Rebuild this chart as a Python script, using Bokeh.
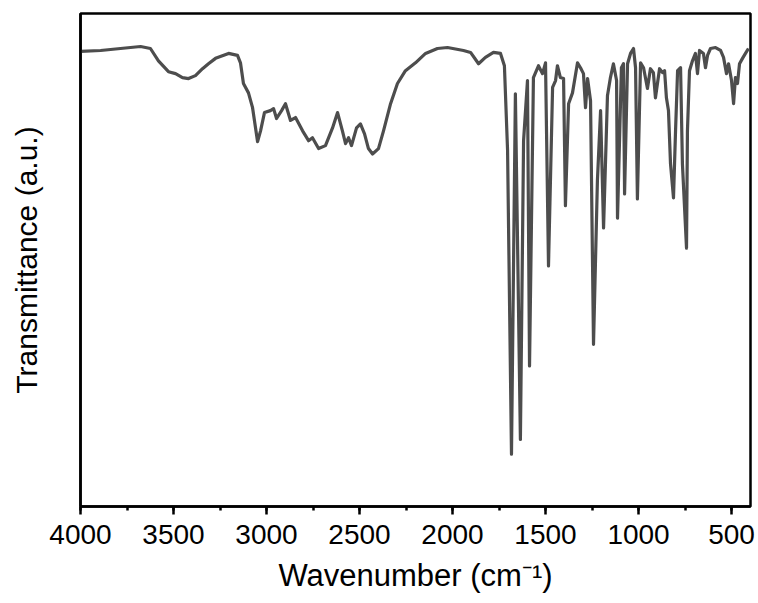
from bokeh.plotting import figure
from bokeh.models import Range1d, SingleIntervalTicker, FixedTicker
from bokeh.embed import file_html
from bokeh.resources import INLINE

# FTIR spectrum: wavenumber (cm^-1) and transmittance (a.u., 0-100)
wavenumber = [
    4000, 3892, 3785, 3677, 3624, 3581, 3527, 3489, 3452, 3419, 3382, 3344, 3312,
    3274, 3204, 3156, 3140,
    3124, 3097, 3075, 3048, 3032, 3011, 2979, 2962, 2946, 2919, 2898, 2871, 2844,
    2806, 2774, 2753, 2720, 2683, 2645, 2618, 2592, 2575, 2559, 2543, 2516, 2495,
    2473, 2452, 2430, 2398, 2371, 2333, 2296, 2253, 2199, 2145, 2081, 2027, 1941,
    1903, 1860, 1823, 1780, 1742, 1721, 1704, 1683, 1662, 1635, 1618, 1597, 1586,
    1565, 1538, 1516, 1500, 1484, 1462, 1446, 1436, 1420, 1403, 1393, 1376, 1355,
    1328, 1312, 1296, 1285, 1274, 1258, 1242, 1221, 1204, 1188, 1167, 1151, 1135,
    1118, 1113, 1092, 1081, 1075, 1059, 1043, 1027, 1016, 1006, 989, 973, 952,
    936, 920, 909, 887, 871, 860, 850, 839, 828, 812, 801, 790, 774, 764, 742,
    737, 726, 710, 694, 683, 672, 651, 640, 629, 613, 586, 559, 543, 527, 516,
    500, 489, 479, 468, 457, 441, 425, 409,
]
transmittance = [
    92.3, 92.5, 92.9, 93.3, 92.9, 90.4, 88.2, 87.8, 87.0, 86.8, 87.4, 88.8, 89.8,
    90.9, 91.9, 91.5, 90.0,
    85.8, 83.9, 80.9, 74.0, 76.2, 79.9, 80.3, 80.7, 78.7, 80.3, 81.7, 78.3, 78.9,
    76.2, 74.2, 74.8, 72.6, 73.2, 76.8, 79.9, 76.2, 73.6, 74.8, 73.2, 76.8, 77.6,
    75.6, 72.6, 71.5, 72.6, 76.2, 81.7, 85.8, 88.4, 90.0, 91.9, 92.9, 93.1, 92.5,
    92.1, 89.8, 91.1, 92.1, 91.9, 89.4, 72.2, 10.6, 83.7, 13.6, 74.2, 86.4, 28.5,
    87.0, 89.4, 87.8, 90.0, 48.8, 85.0, 86.4, 89.4, 87.0, 86.8, 61.0, 81.7, 83.9,
    90.0, 89.0, 87.8, 80.9, 86.8, 82.3, 32.9, 66.1, 80.3, 56.5, 83.3, 87.0, 89.8,
    86.4, 58.5, 89.0, 89.8, 63.4, 89.8, 91.9, 92.9, 89.0, 62.4, 90.0, 89.0, 84.8,
    88.8, 88.0, 82.9, 88.8, 88.0, 88.4, 82.9, 80.3, 69.5, 62.6, 76.2, 88.4, 89.0, 69.5, 52.4,
    76.2, 88.4, 90.4, 91.9, 87.8, 92.5, 91.9, 89.0, 91.5, 92.9, 93.1, 92.5, 91.1, 87.8, 89.8,
    86.4, 81.7, 87.0, 85.8, 89.8, 90.9, 91.9, 92.9,
]

x_title = "Wavenumber (cm\u207b\u00b9)"
y_title = "Transmittance (a.u.)"

FONT = "Liberation Sans"

p = figure(
    width=758, height=603,
    x_range=Range1d(4000, 398), y_range=Range1d(0, 100),
    output_backend="svg", toolbar_location=None,
    min_border_left=80, min_border_right=8, min_border_top=13, min_border_bottom=97,
)
p.background_fill_color = "white"
p.border_fill_color = "white"
p.xgrid.visible = False
p.ygrid.visible = False
p.outline_line_color = "black"
p.outline_line_width = 2.5
p.outline_line_alpha = 1.0

p.line(wavenumber, transmittance, line_color="#4d4d4d", line_width=3.2, line_join="round")

xa = p.xaxis[0]
xa.ticker = SingleIntervalTicker(interval=500, num_minor_ticks=2)
xa.axis_label = x_title
xa.axis_label_text_font = FONT
xa.axis_label_text_font_size = "31px"
xa.axis_label_text_font_style = "normal"
xa.axis_label_text_color = "black"
xa.axis_label_standoff = 11
xa.major_label_text_font = FONT
xa.major_label_text_font_size = "28px"
xa.major_label_text_color = "black"
xa.major_label_standoff = 10
xa.axis_line_color = "black"
xa.axis_line_width = 2.5
xa.major_tick_line_color = "black"
xa.major_tick_line_width = 2.5
xa.major_tick_out = 8
xa.major_tick_in = 0
xa.minor_tick_line_color = "black"
xa.minor_tick_line_width = 2.5
xa.minor_tick_out = 4
xa.minor_tick_in = 0

ya = p.yaxis[0]
ya.ticker = FixedTicker(ticks=[])
ya.axis_label = y_title
ya.axis_label_text_font = FONT
ya.axis_label_text_font_size = "30px"
ya.axis_label_text_font_style = "normal"
ya.axis_label_text_color = "black"
ya.axis_label_standoff = 38
ya.axis_line_color = "black"
ya.axis_line_width = 2.5
ya.major_tick_line_color = None
ya.minor_tick_line_color = None

open("out.html", "w").write(file_html(p, INLINE))
